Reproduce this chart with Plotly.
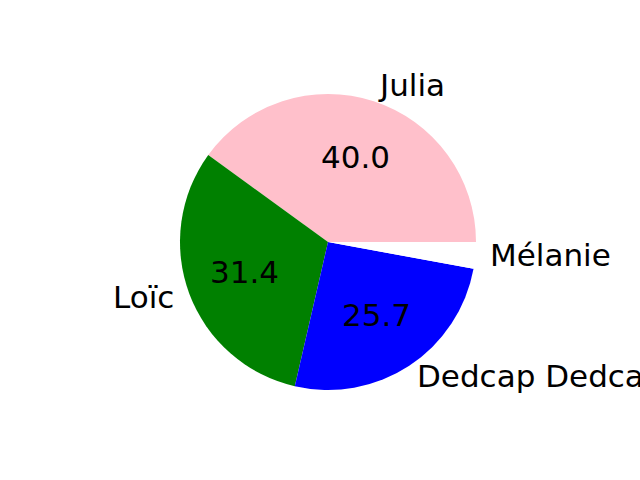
import math
import plotly.graph_objects as go

# slice data
names = ['Julia', 'Loïc', 'Dedcap Dedcap', 'Mélanie']
values = [40.0, 31.4, 25.7, 2.9]
slice_colors = ['pink', 'green', 'blue', 'white']
show_pct = [True, True, True, False]

W, H = 640, 480
cx_px, cy_px, r_px = 328, 242, 148
font = 'DejaVu Sans'
fsize = 31

total = sum(values)
# plotly's ccw pie ends its first slice at the rotation angle, so shift it
# to make the first slice start at 3 o'clock like matplotlib
rot = 90 - 360.0 * values[0] / total

fig = go.Figure(go.Pie(
    labels=names,
    values=values,
    sort=False,
    direction='counterclockwise',
    rotation=rot,
    textinfo='none',
    hoverinfo='skip',
    showlegend=False,
    marker=dict(colors=slice_colors, line=dict(width=0)),
    domain=dict(x=[(cx_px - r_px) / W, (cx_px + r_px) / W],
                y=[(H - cy_px - r_px) / H, (H - cy_px + r_px) / H]),
))

# matplotlib-style labels (1.1 r) and autopct (0.6 r)
start = 0.0
for name, v, sp in zip(names, values, show_pct):
    span = 360.0 * v / total
    mid = math.radians(start + span / 2)
    start += span
    right = math.cos(mid) > 0
    lx = cx_px + 1.1 * r_px * math.cos(mid)
    ly = cy_px - 1.1 * r_px * math.sin(mid)
    fig.add_annotation(
        x=lx / W, y=1 - ly / H, xref='paper', yref='paper',
        text=name, showarrow=False,
        xanchor='left' if right else 'right', yanchor='middle',
        xshift=-2 if right else 0, yshift=2,
        font=dict(family=font, size=fsize, color='black'),
    )
    if sp:
        px = cx_px + 0.6 * r_px * math.cos(mid)
        py = cy_px - 0.6 * r_px * math.sin(mid)
        fig.add_annotation(
            x=px / W, y=1 - py / H, xref='paper', yref='paper',
            text=f'{100 * v / total:.1f}', showarrow=False,
            xanchor='center', yanchor='middle', yshift=1,
            font=dict(family=font, size=fsize, color='black'),
        )

fig.update_layout(
    width=W, height=H,
    margin=dict(l=0, r=0, t=0, b=0),
    paper_bgcolor='white',
    plot_bgcolor='white',
)

# drop the default body margin so the figure sits at the page corner
fig.write_html('out.html', config={'displayModeBar': False},
               post_script="document.body.style.margin='0';")
